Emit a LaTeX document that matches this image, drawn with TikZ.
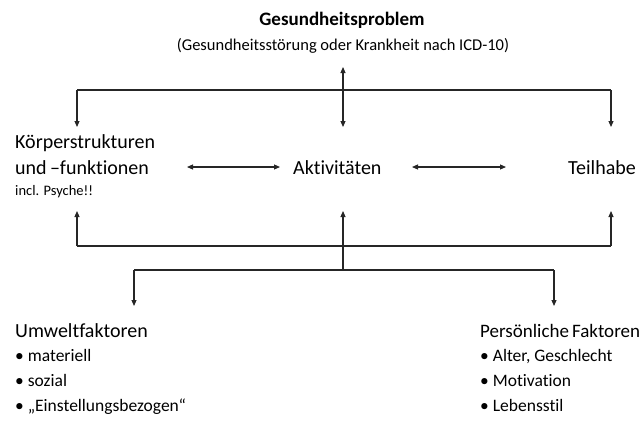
\documentclass[tikz,border=0pt]{standalone}
\usepackage{fontspec}
\setmainfont[Ligatures=NoCommon]{Carlito}
\usetikzlibrary{arrows.meta}
\begin{document}
\begin{tikzpicture}[x=1pt,y=-1pt,
  conn/.style={line width=1.1pt, draw=black!85},
  tip/.style={-{Triangle[length=6pt,width=5pt]}},
  tips/.style={{Triangle[length=6pt,width=5pt]}-{Triangle[length=6pt,width=5pt]}},
  lbl/.style={inner sep=0pt, anchor=base west, font=\fontsize{20}{24}\selectfont},
  lblc/.style={inner sep=0pt, anchor=base, font=\fontsize{20}{24}\selectfont},
  item/.style={inner sep=0pt, anchor=base west, font=\fontsize{17.5}{21}\selectfont},
  small/.style={inner sep=0pt, anchor=base west, font=\fontsize{14.5}{17}\selectfont}]
\useasboundingbox (0,0) rectangle (639,421);
% texts
\node[lblc, font=\fontsize{19}{23}\selectfont\bfseries] (title) at (342,25) {Gesundheitsproblem};
\node[inner sep=0pt, anchor=base, font=\fontsize{16.5}{19}\selectfont] (sub) at (343,50) {(Gesundheitsstörung oder Krankheit nach ICD-10)};
\node[lbl] (k1) at (15,148) {Körperstrukturen};
\node[lbl] (k2) at (15,174) {und\,–funktionen};
\node[small] (k3) at (15,195) {incl. Psyche!!};
\node[lbl] (akt) at (293,174) {Aktivitäten};
\node[lbl] (teil) at (568,174) {Teilhabe};
\node[lbl] (umw) at (15,337) {Umweltfaktoren};
\node[item] (u1) at (15,361) {\textbullet\ materiell};
\node[item] (u2) at (15,386) {\textbullet\ sozial};
\node[item] (u3) at (15,411) {\textbullet\ „Einstellungsbezogen“};
\node[lbl, font=\fontsize{19}{23}\selectfont] (pers) at (480,337) {Persönliche\,Faktoren};
\node[item] (p1) at (480,361) {\textbullet\ Alter, Geschlecht};
\node[item] (p2) at (480,386) {\textbullet\ Motivation};
\node[item] (p3) at (480,411) {\textbullet\ Lebensstil};
% coordinates
\coordinate (gtop) at (343,67);
\coordinate (gbot) at (343,127);
\coordinate (hl) at (77,90);
\coordinate (hr) at (611,90);
\coordinate (kin) at (77,127);
\coordinate (tin) at (611,127);
\coordinate (kup) at (77,211);
\coordinate (aup) at (343,211);
\coordinate (tup) at (611,211);
\coordinate (bl) at (77,246);
\coordinate (bm) at (343,246);
\coordinate (br) at (611,246);
\coordinate (fm) at (343,270);
\coordinate (fl) at (134,270);
\coordinate (fr) at (554,270);
\coordinate (uin) at (134,306);
\coordinate (pin) at (554,306);
\coordinate (a1l) at (187,167);
\coordinate (a1r) at (280,167);
\coordinate (a2l) at (412,167);
\coordinate (a2r) at (506,167);
% connectors
\draw[conn,tips] (gtop) -- (gbot);
\draw[conn] (hl) -- (hr);
\draw[conn,tip] (hl) -- (kin);
\draw[conn,tip] (hr) -- (tin);
\draw[conn,tips] (a1l) -- (a1r);
\draw[conn,tips] (a2l) -- (a2r);
\draw[conn] (bl) -- (br);
\draw[conn,tip] (bl) -- (kup);
\draw[conn,tip] (bm) -- (aup);
\draw[conn,tip] (br) -- (tup);
\draw[conn] (fm) -- (bm);
\draw[conn] (fl) -- (fr);
\draw[conn,tip] (fl) -- (uin);
\draw[conn,tip] (fr) -- (pin);
\end{tikzpicture}
\end{document}
